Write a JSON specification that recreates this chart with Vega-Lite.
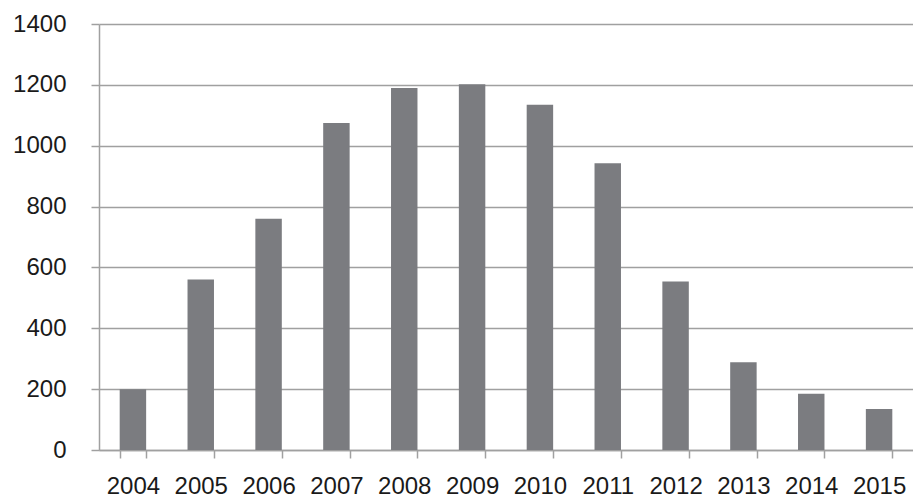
{
  "$schema": "https://vega.github.io/schema/vega-lite/v6.json",
  "autosize": "none",
  "width": 814,
  "height": 426,
  "padding": {"left": 99, "top": 24, "right": 0, "bottom": 47},
  "background": "white",
  "data": {
    "values": [
      {"year": "2004", "value": 200},
      {"year": "2005", "value": 560},
      {"year": "2006", "value": 760},
      {"year": "2007", "value": 1075},
      {"year": "2008", "value": 1190},
      {"year": "2009", "value": 1202},
      {"year": "2010", "value": 1135},
      {"year": "2011", "value": 942},
      {"year": "2012", "value": 554},
      {"year": "2013", "value": 288},
      {"year": "2014", "value": 185},
      {"year": "2015", "value": 135}
    ]
  },
  "mark": {"type": "bar", "color": "#7b7c80"},
  "encoding": {
    "x": {
      "field": "year",
      "type": "ordinal",
      "title": null,
      "scale": {"paddingInner": 0.61, "paddingOuter": 0.305},
      "axis": {
        "labelAngle": 0,
        "labelFont": "Liberation Sans",
        "labelFontSize": 24,
        "labelColor": "#1a1a1a",
        "labelPadding": 16,
        "labelOverlap": false,
        "domainColor": "#a0a0a0",
        "domainWidth": 1.5,
        "tickColor": "#a0a0a0",
        "tickWidth": 1.5,
        "tickSize": 8,
        "tickBand": "extent",
        "grid": false
      }
    },
    "y": {
      "field": "value",
      "type": "quantitative",
      "title": null,
      "scale": {"domain": [0, 1400], "nice": false},
      "axis": {
        "values": [0, 200, 400, 600, 800, 1000, 1200, 1400],
        "format": "d",
        "labelFont": "Liberation Sans",
        "labelFontSize": 24,
        "labelColor": "#1a1a1a",
        "labelPadding": 25,
        "domainColor": "#a0a0a0",
        "domainWidth": 1.5,
        "tickColor": "#a0a0a0",
        "tickWidth": 1.5,
        "tickSize": 8,
        "grid": true,
        "gridColor": "#a0a0a0",
        "gridWidth": 1.5
      }
    }
  },
  "config": {"view": {"stroke": null}}
}
